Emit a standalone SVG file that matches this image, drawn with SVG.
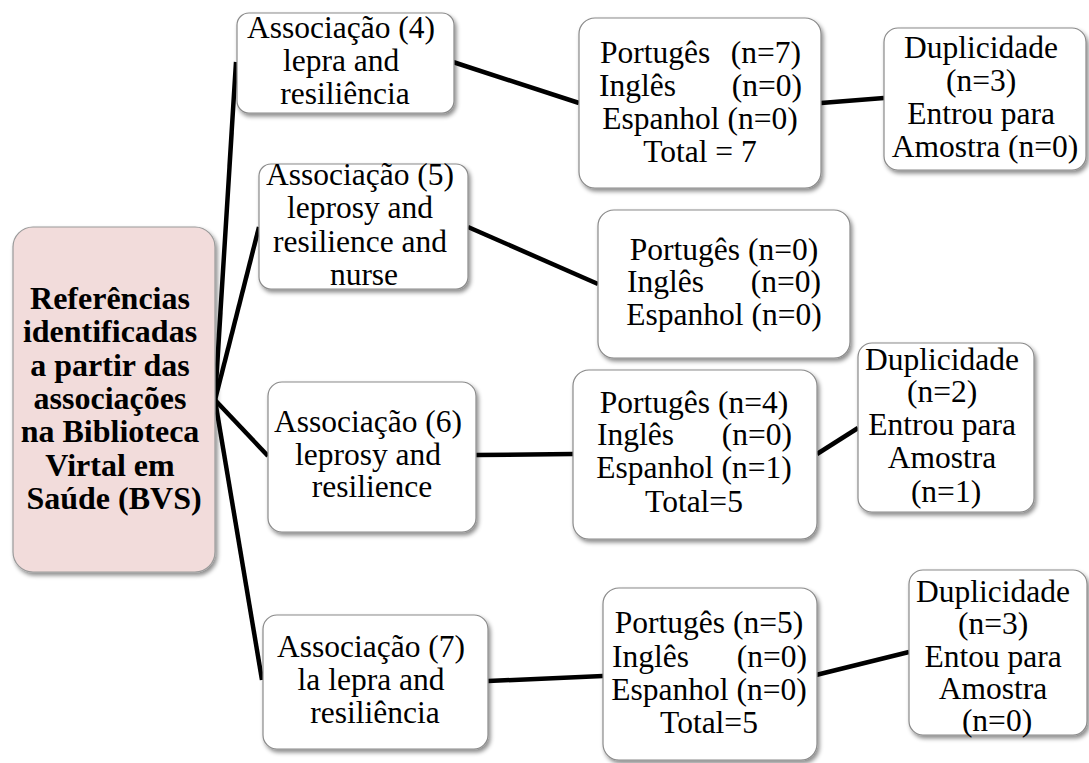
<svg xmlns="http://www.w3.org/2000/svg" width="1089" height="763" viewBox="0 0 1089 763">
<defs>
<filter id="sh" x="-10%" y="-10%" width="125%" height="125%">
<feDropShadow dx="2" dy="3" stdDeviation="2" flood-color="#000" flood-opacity="0.45"/>
</filter>
<style>
.box{fill:#ffffff;stroke:#8a8a8a;stroke-width:1.2;filter:url(#sh)}
.root{fill:#f2dcdb;stroke:#9a9a9a;stroke-width:1.2;filter:url(#sh)}
.t{font-family:'Liberation Serif','Times New Roman',serif;font-size:31.5px;fill:#000;text-anchor:middle}
.b{font-weight:bold;font-size:32px}
.l{text-anchor:start}
.r{text-anchor:end}
.c{stroke:#000;stroke-width:4.5;fill:none;stroke-linecap:butt}
</style>
</defs>
<rect width="1089" height="763" fill="#ffffff"/>
<g id="connectors">
<line class="c" x1="215" y1="400" x2="236" y2="62"/>
<line class="c" x1="215" y1="400" x2="259" y2="227"/>
<line class="c" x1="215" y1="400" x2="268" y2="456"/>
<line class="c" x1="215" y1="400" x2="262" y2="680"/>
<line class="c" x1="453" y1="62" x2="579" y2="103"/>
<line class="c" x1="821" y1="103" x2="884" y2="98"/>
<line class="c" x1="468" y1="227" x2="598" y2="284"/>
<line class="c" x1="476" y1="455" x2="573" y2="454"/>
<line class="c" x1="817" y1="454" x2="858" y2="428"/>
<line class="c" x1="488" y1="681" x2="603" y2="676"/>
<line class="c" x1="816" y1="675" x2="909" y2="652"/>
</g>
<g id="root">
<rect class="root" x="13" y="227" width="202" height="345" rx="20"/>
<text class="t b">
<tspan x="114" y="309">Referências</tspan>
<tspan x="114" y="342">identificadas</tspan>
<tspan x="114" y="376">a partir das</tspan>
<tspan x="114" y="409">associações</tspan>
<tspan x="114" y="442">na Biblioteca</tspan>
<tspan x="114" y="476">Virtal em</tspan>
<tspan x="114" y="509">Saúde (BVS)</tspan>
</text>
</g>
<g id="a4">
<rect class="box" x="237" y="13" width="217" height="100" rx="12"/>
<text class="t">
<tspan x="345" y="38">Associação (4)</tspan>
<tspan x="345" y="71">lepra and</tspan>
<tspan x="345" y="104">resiliência</tspan>
</text>
</g>
<g id="a5">
<rect class="box" x="259" y="164" width="209" height="125" rx="12"/>
<text class="t">
<tspan x="364" y="185">Associação (5)</tspan>
<tspan x="364" y="218">leprosy and</tspan>
<tspan x="364" y="252">resilience and</tspan>
<tspan x="364" y="285">nurse</tspan>
</text>
</g>
<g id="a6">
<rect class="box" x="268" y="382" width="208" height="150" rx="14"/>
<text class="t">
<tspan x="372" y="432">Associação (6)</tspan>
<tspan x="372" y="465">leprosy and</tspan>
<tspan x="372" y="497">resilience</tspan>
</text>
</g>
<g id="a7">
<rect class="box" x="263" y="615" width="225" height="134" rx="14"/>
<text class="t">
<tspan x="375" y="657">Associação (7)</tspan>
<tspan x="375" y="690">la lepra and</tspan>
<tspan x="375" y="723">resiliência</tspan>
</text>
</g>
<g id="p1">
<rect class="box" x="579" y="18" width="242" height="170" rx="16"/>
<text class="t"><tspan class="l" x="600" y="63">Portugês</tspan><tspan class="r" x="801" y="63">(n=7)</tspan></text>
<text class="t"><tspan class="l" x="599" y="96">Inglês</tspan><tspan class="r" x="802" y="96">(n=0)</tspan></text>
<text class="t" x="700" y="129">Espanhol (n=0)</text>
<text class="t" x="700" y="162">Total = 7</text>
</g>
<g id="d1">
<rect class="box" x="884" y="28" width="202" height="142" rx="14"/>
<text class="t">
<tspan x="985" y="58">Duplicidade</tspan>
<tspan x="985" y="91">(n=3)</tspan>
<tspan x="985" y="124">Entrou para</tspan>
<tspan x="985" y="157">Amostra (n=0)</tspan>
</text>
</g>
<g id="p2">
<rect class="box" x="598" y="210" width="252" height="148" rx="16"/>
<text class="t" x="724" y="260">Portugês (n=0)</text>
<text class="t"><tspan class="l" x="627" y="292">Inglês</tspan><tspan class="r" x="821" y="292">(n=0)</tspan></text>
<text class="t" x="724" y="325">Espanhol (n=0)</text>
</g>
<g id="p3">
<rect class="box" x="573" y="370" width="244" height="169" rx="16"/>
<text class="t" x="694" y="413">Portugês (n=4)</text>
<text class="t"><tspan class="l" x="597" y="445">Inglês</tspan><tspan class="r" x="792" y="445">(n=0)</tspan></text>
<text class="t" x="694" y="478">Espanhol (n=1)</text>
<text class="t" x="694" y="512">Total=5</text>
</g>
<g id="d2">
<rect class="box" x="858" y="343" width="176" height="169" rx="14"/>
<text class="t">
<tspan x="946" y="370">Duplicidade</tspan>
<tspan x="946" y="402">(n=2)</tspan>
<tspan x="946" y="435">Entrou para</tspan>
<tspan x="946" y="468">Amostra</tspan>
<tspan x="946" y="502">(n=1)</tspan>
</text>
</g>
<g id="p4">
<rect class="box" x="603" y="588" width="214" height="172" rx="16"/>
<text class="t" x="709" y="633">Portugês (n=5)</text>
<text class="t"><tspan class="l" x="612" y="667">Inglês</tspan><tspan class="r" x="807" y="667">(n=0)</tspan></text>
<text class="t" x="709" y="700">Espanhol (n=0)</text>
<text class="t" x="709" y="733">Total=5</text>
</g>
<g id="d3">
<rect class="box" x="909" y="570" width="178" height="165" rx="14"/>
<text class="t">
<tspan x="997" y="602">Duplicidade</tspan>
<tspan x="997" y="634">(n=3)</tspan>
<tspan x="997" y="667">Entou para</tspan>
<tspan x="997" y="699">Amostra</tspan>
<tspan x="997" y="731">(n=0)</tspan>
</text>
</g>
</svg>
